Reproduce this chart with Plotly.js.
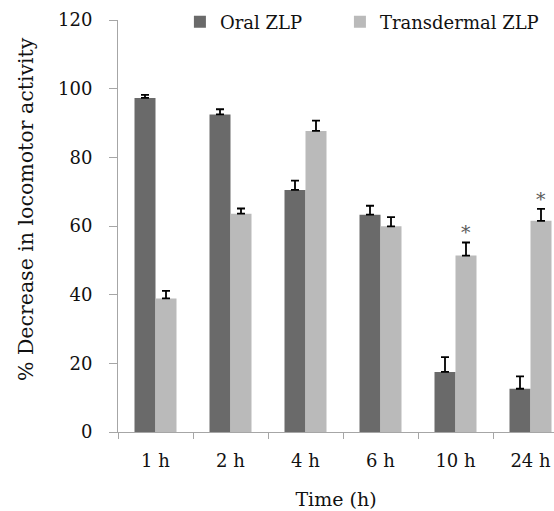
<!DOCTYPE html>
<html>
<head>
<meta charset="utf-8">
<script src="https://cdn.plot.ly/plotly-3.0.1.min.js"></script>
<style>html,body{margin:0;padding:0;overflow:hidden;background:#fff;}</style>
</head>
<body>
<div id="chart" style="width:554px;height:511px;"></div>
<script>
var categories = ["1 h", "2 h", "4 h", "6 h", "10 h", "24 h"];
var oralValues = [97.3, 92.5, 70.5, 63.3, 17.5, 12.6];
var oralErrors = [0.9, 1.5, 2.7, 2.6, 4.3, 3.6];
var transValues = [38.9, 63.6, 87.7, 59.9, 51.4, 61.5];
var transErrors = [2.2, 1.5, 3.0, 2.7, 3.8, 3.5];
var significant = [false, false, false, false, true, true];
var yTicks = [0, 20, 40, 60, 80, 100, 120];

var serif = "DejaVu Serif";
var axisColor = "#a6a6a6";
var txt = "#111";
var fs = 18;

var oral = {
  type: "bar", name: "Oral ZLP", x: categories, y: oralValues, legend: "legend",
  marker: {color: "#6a6a6a", line: {width: 0}},
  error_y: {type: "data", symmetric: false, array: oralErrors,
            arrayminus: oralErrors.map(function(){return 0;}),
            color: "#000", thickness: 1.8, width: 4}
};
var trans = {
  type: "bar", name: "Transdermal ZLP", x: categories, y: transValues, legend: "legend2",
  marker: {color: "#bababa", line: {width: 0}},
  error_y: {type: "data", symmetric: false, array: transErrors,
            arrayminus: transErrors.map(function(){return 0;}),
            color: "#000", thickness: 1.8, width: 4}
};

var annotations = [];
categories.forEach(function(c, i){
  if (significant[i]) {
    annotations.push({
      x: c, y: transValues[i] + transErrors[i], xref: "x", yref: "y",
      text: "*", showarrow: false, xshift: 10.5, yshift: -3,
      yanchor: "bottom",
      font: {family: serif, size: 19, color: "#5a5a5a"}
    });
  }
});
annotations.push({
  text: "% Decrease in locomotor activity", textangle: -90,
  xref: "paper", yref: "paper", x: -0.212, y: 0.54,
  xanchor: "center", yanchor: "middle", showarrow: false,
  font: {family: serif, size: 20.5, color: txt}
});

var plotLeft = 118, plotWidth = 554 - 118, catPx = 75;

var legendCommon = {orientation: "h", xanchor: "left", y: 0.995, yanchor: "middle",
  font: {family: serif, size: 18, color: txt}, bgcolor: "rgba(0,0,0,0)", itemwidth: 30};

var layout = {
  width: 554, height: 511,
  margin: {l: plotLeft, r: 0, t: 20, b: 79, pad: 0},
  paper_bgcolor: "#fff", plot_bgcolor: "#fff",
  barmode: "group", bargap: 0.44, bargroupgap: 0,
  font: {family: serif, size: fs, color: txt},
  showlegend: true,
  legend: Object.assign({}, legendCommon, {x: 0.142}),
  legend2: Object.assign({}, legendCommon, {x: 0.509}),
  xaxis: {
    type: "category",
    range: [-0.5, -0.5 + plotWidth / catPx],
    showline: true, linecolor: axisColor, linewidth: 1,
    ticks: "outside", tickson: "boundaries", ticklen: 6, tickcolor: axisColor, tickwidth: 1,
    ticklabelstandoff: 12,
    showgrid: false, zeroline: false,
    tickfont: {family: serif, size: fs, color: txt},
    title: {text: "Time (h)", font: {family: serif, size: 19, color: txt}, standoff: 23}
  },
  yaxis: {
    range: [0, 120], tickvals: yTicks, ticktext: yTicks.map(String),
    showline: true, linecolor: axisColor, linewidth: 1,
    ticks: "outside", ticklen: 8, tickcolor: axisColor, tickwidth: 1,
    ticklabelstandoff: 13,
    showgrid: false, zeroline: false,
    tickfont: {family: serif, size: fs, color: txt}
  },
  annotations: annotations
};

Plotly.newPlot("chart", [oral, trans], layout, {displayModeBar: false, staticPlot: true});
</script>
</body>
</html>
